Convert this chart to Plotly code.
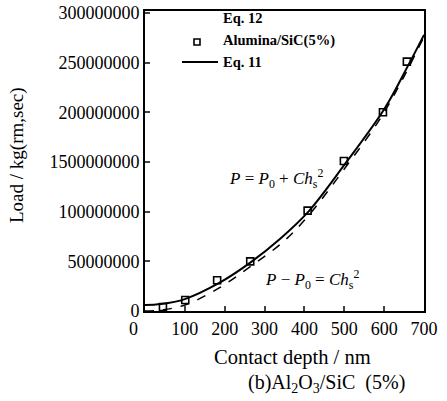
import plotly.graph_objects as go

# ---- data ----
depth_pts = [45, 101, 181, 264, 408, 499, 597, 657]            # nm
load_pts = [4e6, 11e6, 31e6, 50e6, 101e6, 151e6, 200e6, 251e6]

eq11_h = [0, 40, 100, 185, 265, 340, 410, 500, 600, 660, 700]
eq11_P = [6e6, 7e6, 12e6, 28e6, 49e6, 73e6, 100e6, 147e6, 203e6, 247e6, 278e6]

eq12_h = [0, 40, 100, 185, 265, 345, 410, 500, 600, 700]
eq12_P = [0, 1e6, 6e6, 23e6, 45e6, 69e6, 96e6, 143e6, 200e6, 276e6]

x_tickvals = [100, 200, 300, 400, 500, 600, 700]
x_ticktext = ["100", "200", "300", "400", "500", "600", "700"]
y_tickvals = [0, 50e6, 100e6, 150e6, 200e6, 250e6, 300e6]
y_ticktext = ["0", "50000000", "100000000", "1500000000", "200000000", "250000000", "300000000"]

W, H = 447, 401
L, R, T, B = 145, 23, 11, 90
PW, PH = W - L - R, H - T - B


def px(x):
    return (x - L) / PW


def py(y):
    return 1 - (y - T) / PH


SERIF = "Liberation Serif"

fig = go.Figure()
fig.add_trace(go.Scatter(x=eq12_h, y=eq12_P, mode="lines", line=dict(color="black", width=1.5, dash="dash", shape="spline"), showlegend=False))
fig.add_trace(go.Scatter(x=eq11_h, y=eq11_P, mode="lines", line=dict(color="black", width=2, shape="spline"), showlegend=False))
fig.add_trace(go.Scatter(x=depth_pts, y=load_pts, mode="markers", marker=dict(symbol="square-open", size=7, color="black", line=dict(width=1.6)), showlegend=False))

fig.update_layout(
    width=W, height=H,
    margin=dict(l=L, r=R, t=T, b=B, autoexpand=False),
    paper_bgcolor="white", plot_bgcolor="white",
    font=dict(family=SERIF, size=18, color="black"),
    xaxis=dict(range=[0, 700], tickvals=x_tickvals, ticktext=x_ticktext, ticks="inside", ticklen=5,
               tickwidth=1.5, showline=True, linewidth=2, linecolor="black", mirror=True,
               showgrid=False, zeroline=False, automargin=False, tickfont=dict(family=SERIF, size=18)),
    yaxis=dict(range=[0, 302e6], tickvals=y_tickvals, ticktext=y_ticktext, ticks="inside", ticklen=5,
               tickwidth=1.5, showline=True, linewidth=2, linecolor="black", mirror=True,
               showgrid=False, zeroline=False, automargin=False, tickfont=dict(family=SERIF, size=18)),
)

ann = []
# separate x "0" label
ann.append(dict(x=px(133), y=py(329), xref="paper", yref="paper", text="0", showarrow=False,
                font=dict(family=SERIF, size=18), xanchor="center", yanchor="middle"))
# axis titles
ann.append(dict(x=px(292), y=py(357), xref="paper", yref="paper", text="Contact depth / nm", showarrow=False,
                font=dict(family=SERIF, size=20.5), xanchor="center", yanchor="middle"))
ann.append(dict(x=px(17), y=py(155), xref="paper", yref="paper", text="Load / kg(rm,sec)", showarrow=False,
                textangle=-90, font=dict(family=SERIF, size=19), xanchor="center", yanchor="middle"))
ann.append(dict(x=px(326), y=py(383), xref="paper", yref="paper",
                text="(b)Al<sub>2</sub>O<sub>3</sub>/SiC  (5%)", showarrow=False,
                font=dict(family=SERIF, size=20), xanchor="center", yanchor="middle"))
# equations
ann.append(dict(x=px(227), y=py(178), xref="paper", yref="paper",
                text="<i>P</i> = <i>P</i><sub>0</sub> + <i>Ch</i><sub>s</sub><sup>2</sup>", showarrow=False,
                font=dict(family=SERIF, size=17), xanchor="left", yanchor="middle"))
ann.append(dict(x=px(263), y=py(279), xref="paper", yref="paper",
                text="<i>P</i> − <i>P</i><sub>0</sub> = <i>Ch</i><sub>s</sub><sup>2</sup>", showarrow=False,
                font=dict(family=SERIF, size=17), xanchor="left", yanchor="middle"))
# legend
for txt, yy in [("Eq. 12", 18), ("Alumina/SiC(5%)", 41), ("Eq. 11", 62)]:
    ann.append(dict(x=px(221), y=py(yy), xref="paper", yref="paper", text="<b>" + txt + "</b>", showarrow=False,
                    font=dict(family=SERIF, size=14.5), xanchor="left", yanchor="middle"))
fig.update_layout(annotations=ann)

fig.add_shape(type="rect", xref="paper", yref="paper", x0=px(194), x1=px(200), y0=py(45), y1=py(39),
              line=dict(color="black", width=1.6))
fig.add_shape(type="line", xref="paper", yref="paper", x0=px(182), x1=px(218), y0=py(62), y1=py(62),
              line=dict(color="black", width=2))

fig.write_html("out.html", config={"displayModeBar": False},
               post_script="document.body.style.margin='0';document.body.style.padding='0';")
